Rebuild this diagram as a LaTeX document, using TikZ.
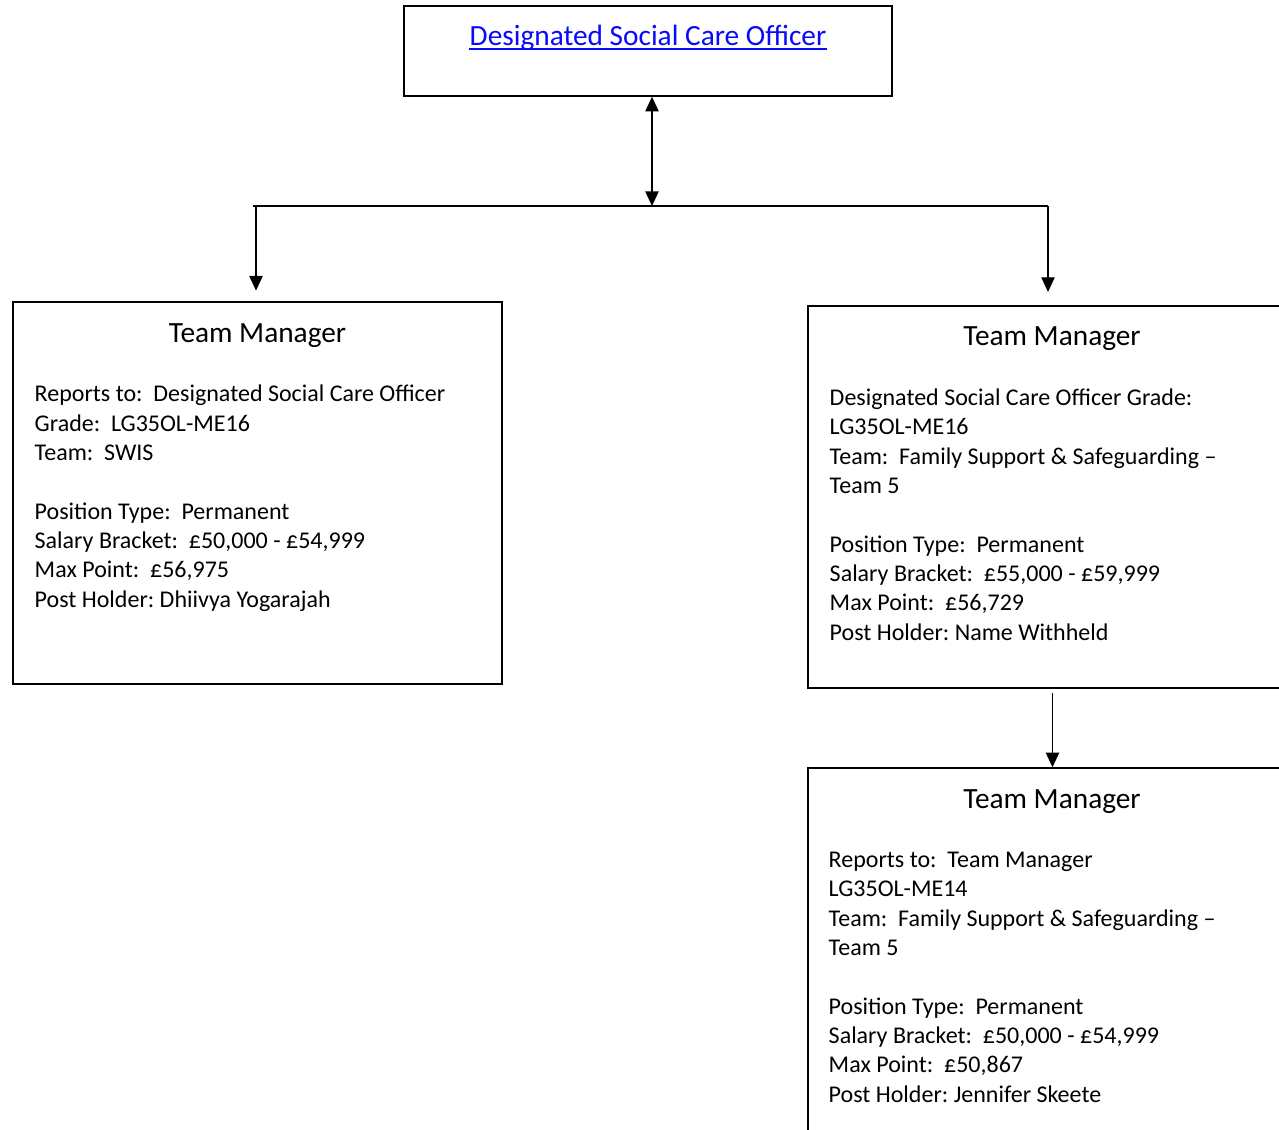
\documentclass[tikz,border=0pt]{standalone}
\usepackage{fontspec}
\setmainfont{Carlito}
\frenchspacing
\usetikzlibrary{arrows.meta,positioning}
\definecolor{linkblue}{RGB}{10,10,250}

\tikzset{
  postbox/.style={rectangle, draw, fill=white, line width=1.1pt,
                  minimum width=366.75pt, minimum height=286.5pt},
  posttitle/.style={anchor=base, inner sep=0pt, font=\fontsize{22}{26}\selectfont},
  postdetails/.style={anchor=base west, align=left, inner sep=0pt,
                      font=\fontsize{18}{22}\selectfont},
}

\begin{document}
\begin{tikzpicture}[x=0.75pt,y=-0.75pt,->,>={Triangle[width=10pt,length=11pt]},line width=1.1pt]

    \useasboundingbox (0,0) rectangle (1279,1130);
    \clip (0,0) rectangle (1279,1130);

    % top post
    \node[rectangle,
          draw,
          fill = white,
          minimum width = 366pt,
          minimum height = 67.5pt] (dsco) at (648,51) {};
    \node[posttitle, text=linkblue] (dscoName) at (648,46) {Designated Social Care Officer};
    \draw[-, linkblue, line width=1.1pt] ([yshift=-2.4pt]dscoName.base west) -- ([yshift=-2.4pt]dscoName.base east);

    % left team manager
    \node[postbox] (tmSwis) at (257.5,493) {};
    \node[posttitle] at (257.5,343) {Team Manager};
    \node[postdetails] (tmSwisText) at (34,607) {Reports to:\ \ Designated Social Care Officer\\
        Grade:\ \ LG35OL-ME16\\
        Team:\ \ SWIS\\[22pt]
        Position Type:\ \ Permanent\\
        Salary Bracket:\ \ £50,000 - £54,999\\
        Max Point:\ \ £56,975\\
        Post Holder: Dhiivya Yogarajah};

    % right team manager
    \node[postbox] (tmFss) at (1052.5,497) {};
    \node[posttitle] at (1052,346) {Team Manager};
    \node[postdetails] (tmFssText) at (829,640) {Designated Social Care Officer Grade:\\
        LG35OL-ME16\\
        Team:\ \ Family Support \& Safeguarding –\\
        Team 5\\[22pt]
        Position Type:\ \ Permanent\\
        Salary Bracket:\ \ £55,000 - £59,999\\
        Max Point:\ \ £56,729\\
        Post Holder: Name Withheld};

    % lower team manager
    \node[postbox] (tmTeam) at (1052.5,959) {};
    \node[posttitle] at (1052,808) {Team Manager};
    \node[postdetails] (tmTeamText) at (828,1102) {Reports to:\ \ Team Manager\\
        LG35OL-ME14\\
        Team:\ \ Family Support \& Safeguarding –\\
        Team 5\\[22pt]
        Position Type:\ \ Permanent\\
        Salary Bracket:\ \ £50,000 - £54,999\\
        Max Point:\ \ £50,867\\
        Post Holder: Jennifer Skeete};

    % connectors
    \coordinate (bar) at (652,206);
    \coordinate (barL) at (253,206);
    \coordinate (barR) at (1048,206);
    \coordinate (dropL) at (256,206);

    \draw[-] (barL) -- (barR);
    \draw[<->] ([xshift=3pt]dsco.south) -- ([xshift=3pt]dsco.south |- bar);
    \draw (dropL) -- (dropL |- tmSwis.north) [shorten >=8pt];
    \draw[shorten >=10pt] (barR) -- (barR |- tmFss.north);
    \draw ([yshift=-3pt]tmFss.south) -- (tmTeam.north);

\end{tikzpicture}
\end{document}
